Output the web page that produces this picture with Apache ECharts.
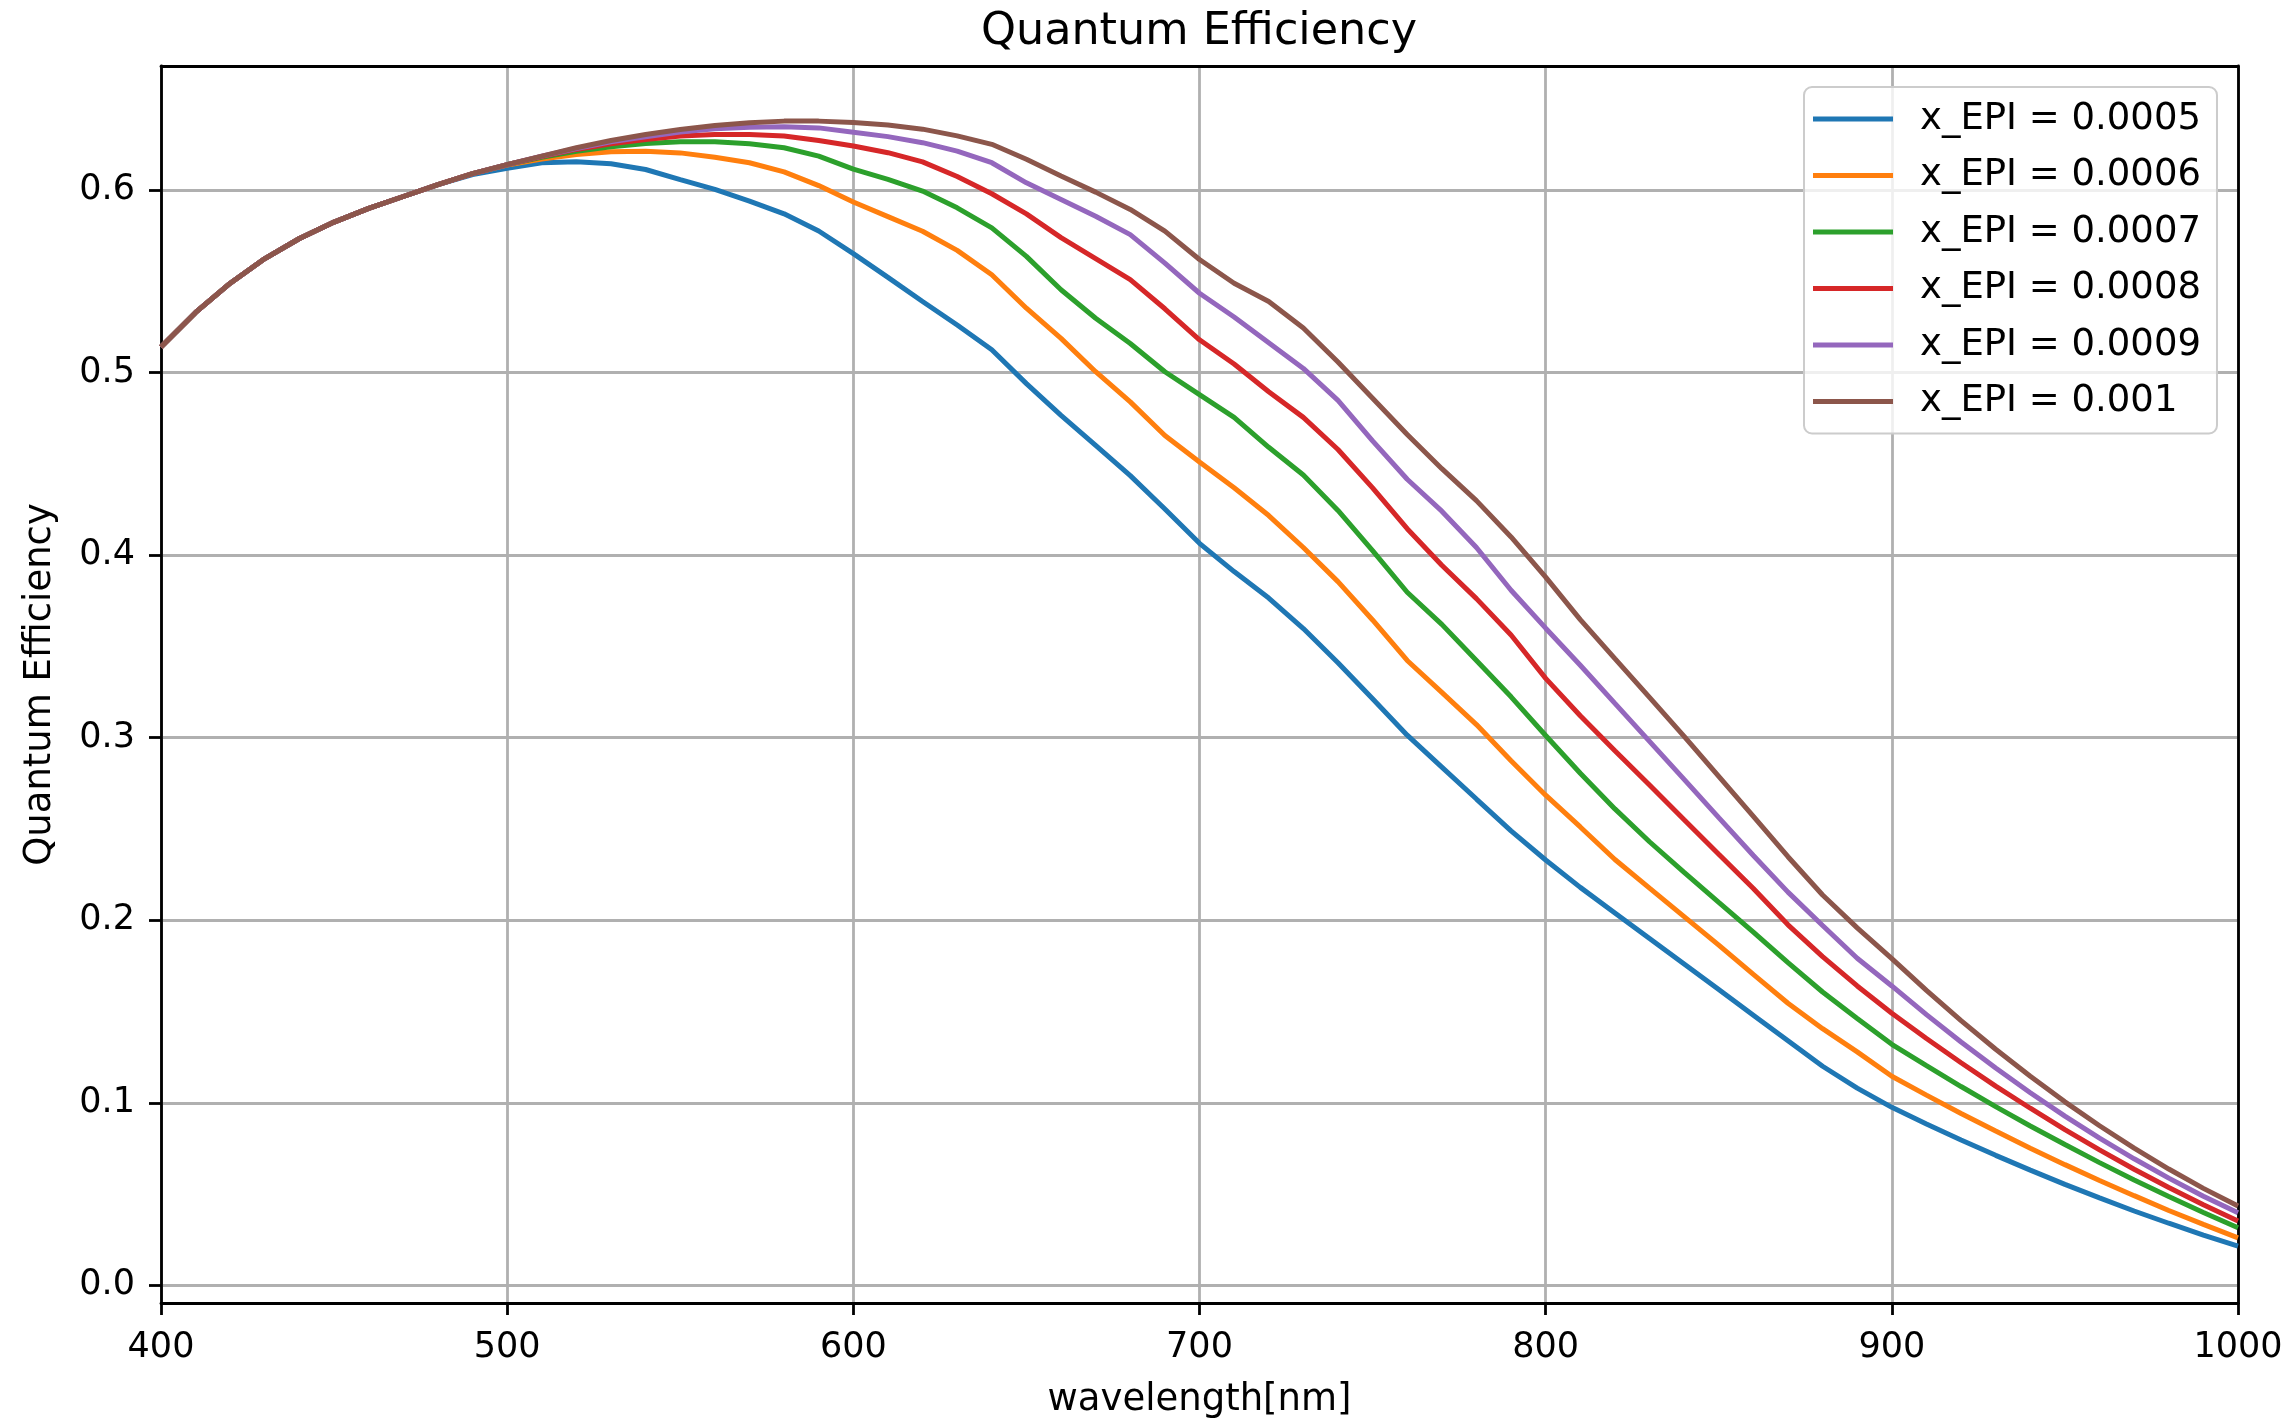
<!DOCTYPE html>
<html><head><meta charset="utf-8">
<script src="https://cdn.jsdelivr.net/npm/echarts@6/dist/echarts.min.js"></script>
<style>html,body{margin:0;padding:0;background:#fff}#c{width:2293px;height:1424px}</style>
</head><body><div id="c"></div>
<script>
const wavelength = [400,410,420,430,440,450,460,470,480,490,500,510,520,530,540,550,560,570,580,590,600,610,620,630,640,650,660,670,680,690,700,710,720,730,740,750,760,770,780,790,800,810,820,830,840,850,860,870,880,890,900,910,920,930,940,950,960,970,980,990,1000];
const seriesNames = ['x_EPI = 0.0005','x_EPI = 0.0006','x_EPI = 0.0007','x_EPI = 0.0008','x_EPI = 0.0009','x_EPI = 0.001'];
const qe0005 = [0.514,0.533,0.549,0.5625,0.5735,0.5825,0.590,0.5965,0.603,0.6085,
0.612,0.615,0.6155,0.6144,0.6113,0.6058,0.6004,0.594,0.587,0.5776,
0.5652,0.5522,0.539,0.5261,0.5125,0.494,0.4766,0.4601,0.4436,0.4253,
0.4065,0.391,0.3765,0.3598,0.3411,0.3213,0.3014,0.2839,0.2664,0.2490,
0.233,0.218,0.204,0.190,0.176,0.162,0.148,0.134,0.120,0.108,
0.0975,0.0884,0.0796,0.0712,0.0631,0.0553,0.0479,0.0407,0.0340,0.0275,
0.0214];
const qe0006 = [0.514,0.533,0.549,0.5625,0.5735,0.5825,0.590,0.5965,0.603,0.609,
0.6137,0.617,0.6195,0.621,0.6213,0.6204,0.618,0.615,0.610,0.6025,
0.5935,0.5855,0.5775,0.567,0.5536,0.5353,0.5188,0.5005,0.484,0.4656,
0.451,0.4369,0.4217,0.4042,0.3855,0.3645,0.3423,0.3248,0.3072,0.2874,
0.2685,0.2511,0.2333,0.2176,0.202,0.1864,0.1703,0.1545,0.1406,0.1279,
0.1145,0.1042,0.0941,0.0845,0.0751,0.0661,0.0574,0.0491,0.0410,0.0334,
0.026];
const qe0007 = [0.514,0.533,0.549,0.5625,0.5735,0.5825,0.590,0.5965,0.603,0.609,
0.614,0.618,0.6213,0.6237,0.6255,0.6265,0.6265,0.6254,0.6232,0.6186,
0.6115,0.6059,0.5995,0.5903,0.5793,0.5637,0.5454,0.5298,0.516,0.5005,
0.488,0.4755,0.4591,0.4439,0.4245,0.4025,0.3797,0.3621,0.3423,0.3224,
0.3012,0.2805,0.2610,0.2430,0.2262,0.2098,0.1935,0.1768,0.1607,0.1462,
0.132,0.1203,0.1089,0.0979,0.0873,0.0771,0.0672,0.0577,0.0486,0.0399,
0.0315];
const qe0008 = [0.514,0.533,0.549,0.5625,0.5735,0.5825,0.590,0.5965,0.603,0.609,
0.614,0.6184,0.6223,0.6254,0.6277,0.6296,0.6305,0.6305,0.6296,0.6272,
0.6242,0.6205,0.6155,0.6075,0.598,0.587,0.574,0.5625,0.551,0.535,
0.518,0.5047,0.4895,0.4755,0.4579,0.4369,0.4145,0.3945,0.3762,0.3563,
0.3325,0.312,0.2929,0.2741,0.2551,0.2362,0.2174,0.1975,0.1801,0.164,
0.149,0.1352,0.1219,0.1091,0.0970,0.0853,0.0742,0.0636,0.0536,0.0441,
0.0352];
const qe0009 = [0.514,0.533,0.549,0.5625,0.5735,0.5825,0.590,0.5965,0.603,0.609,
0.614,0.6186,0.6228,0.6265,0.6292,0.6318,0.6336,0.6345,0.6347,0.6341,
0.6317,0.6293,0.626,0.6214,0.615,0.604,0.5949,0.5857,0.5756,0.5600,
0.5435,0.5305,0.5164,0.5023,0.4848,0.4626,0.4416,0.4241,0.4042,0.3808,
0.360,0.3397,0.3188,0.298,0.2772,0.2562,0.2355,0.2154,0.1971,0.1792,
0.164,0.1483,0.1333,0.1190,0.1055,0.0927,0.0806,0.0693,0.0587,0.0488,
0.0397];
const qe0010 = [0.514,0.533,0.549,0.5625,0.5735,0.5825,0.590,0.5965,0.603,0.609,
0.614,0.6186,0.6232,0.6272,0.6305,0.6332,0.6354,0.6369,0.6378,0.6378,
0.637,0.6357,0.6334,0.6297,0.6251,0.6169,0.6077,0.5989,0.5894,0.5775,
0.562,0.549,0.539,0.5245,0.5058,0.486,0.4661,0.4474,0.4299,0.41,
0.388,0.3647,0.3433,0.3221,0.3007,0.2788,0.2569,0.2348,0.2138,0.1958,
0.179,0.1616,0.1450,0.1293,0.1145,0.1005,0.0874,0.0751,0.0637,0.0531,
0.0434];
const xTicks = [400,500,600,700,800,900,1000];
const yTicks = [0,0.1,0.2,0.3,0.4,0.5,0.6];

const colors = ['#1f77b4','#ff7f0e','#2ca02c','#d62728','#9467bd','#8c564b'];
const allSeries = [qe0005,qe0006,qe0007,qe0008,qe0009,qe0010];
const FONT = 'DejaVu Sans';

const chart = echarts.init(document.getElementById('c'), null, {renderer:'canvas'});
const axisLineStyle = {color:'#000', width:2.8};
chart.setOption({
  animation:false,
  backgroundColor:'#fff',
  textStyle:{fontFamily:FONT},
  title:{text:'Quantum Efficiency', left:1199, textAlign:'center', top:10, padding:0,
    textStyle:{fontSize:44.5, fontWeight:'normal', color:'#000', fontFamily:FONT}},
  grid:{left:161, right:55, top:66, bottom:116, containLabel:false},
  legend:{
    data:seriesNames, orient:'vertical', left:1804, top:87,
    itemWidth:80, itemHeight:5, itemGap:16.5, icon:'rect',
    padding:[12,16,12,9],
    backgroundColor:'rgba(255,255,255,0.8)', borderColor:'#cccccc', borderWidth:2, borderRadius:8,
    textStyle:{fontSize:37, color:'#000', fontFamily:FONT, lineHeight:40, padding:[0,0,0,22]},
    z:10
  },
  xAxis:[{
    type:'value', min:400, max:1000, interval:100, position:'bottom',
    name:'wavelength[nm]', nameLocation:'middle', nameGap:79,
    nameTextStyle:{fontSize:37, color:'#000', fontFamily:FONT},
    axisLine:{show:true, onZero:false, lineStyle:axisLineStyle},
    axisTick:{show:true, length:12, inside:false, lineStyle:axisLineStyle, customValues:xTicks},
    axisLabel:{show:true, customValues:xTicks, fontSize:35, color:'#000', margin:27, fontFamily:FONT,
      formatter:function(v){return String(Math.round(v));}},
    splitLine:{show:true, lineStyle:{color:'#b0b0b0', width:2.8}}
  },{
    type:'value', min:400, max:1000, position:'top',
    axisLine:{show:true, onZero:false, lineStyle:axisLineStyle},
    axisTick:{show:false}, axisLabel:{show:false}, splitLine:{show:false}
  }],
  yAxis:[{
    type:'value', min:-0.0097, max:0.668, position:'left',
    name:'Quantum Efficiency', nameLocation:'middle', nameGap:102,
    nameTextStyle:{fontSize:37, color:'#000', fontFamily:FONT},
    axisLine:{show:true, onZero:false, lineStyle:axisLineStyle},
    axisTick:{show:true, length:12, inside:false, lineStyle:axisLineStyle, customValues:yTicks},
    axisLabel:{show:true, customValues:yTicks, fontSize:35, color:'#000', margin:26, fontFamily:FONT,
      formatter:function(v){return Number(v).toFixed(1);}},
    splitLine:{show:true, lineStyle:{color:'#b0b0b0', width:2.8}}
  },{
    type:'value', min:-0.0097, max:0.668, position:'right',
    axisLine:{show:true, onZero:false, lineStyle:axisLineStyle},
    axisTick:{show:false}, axisLabel:{show:false}, splitLine:{show:false}
  }],
  series: allSeries.map(function(arr, k){
    return {
      name:seriesNames[k], type:'line', xAxisIndex:0, yAxisIndex:0,
      data: wavelength.map(function(w,i){return [w, arr[i]];}),
      symbol:'none', showSymbol:false, smooth:false,
      lineStyle:{width:5, color:colors[k]}, itemStyle:{color:colors[k]},
      z:2+k
    };
  })
});
</script></body></html>
